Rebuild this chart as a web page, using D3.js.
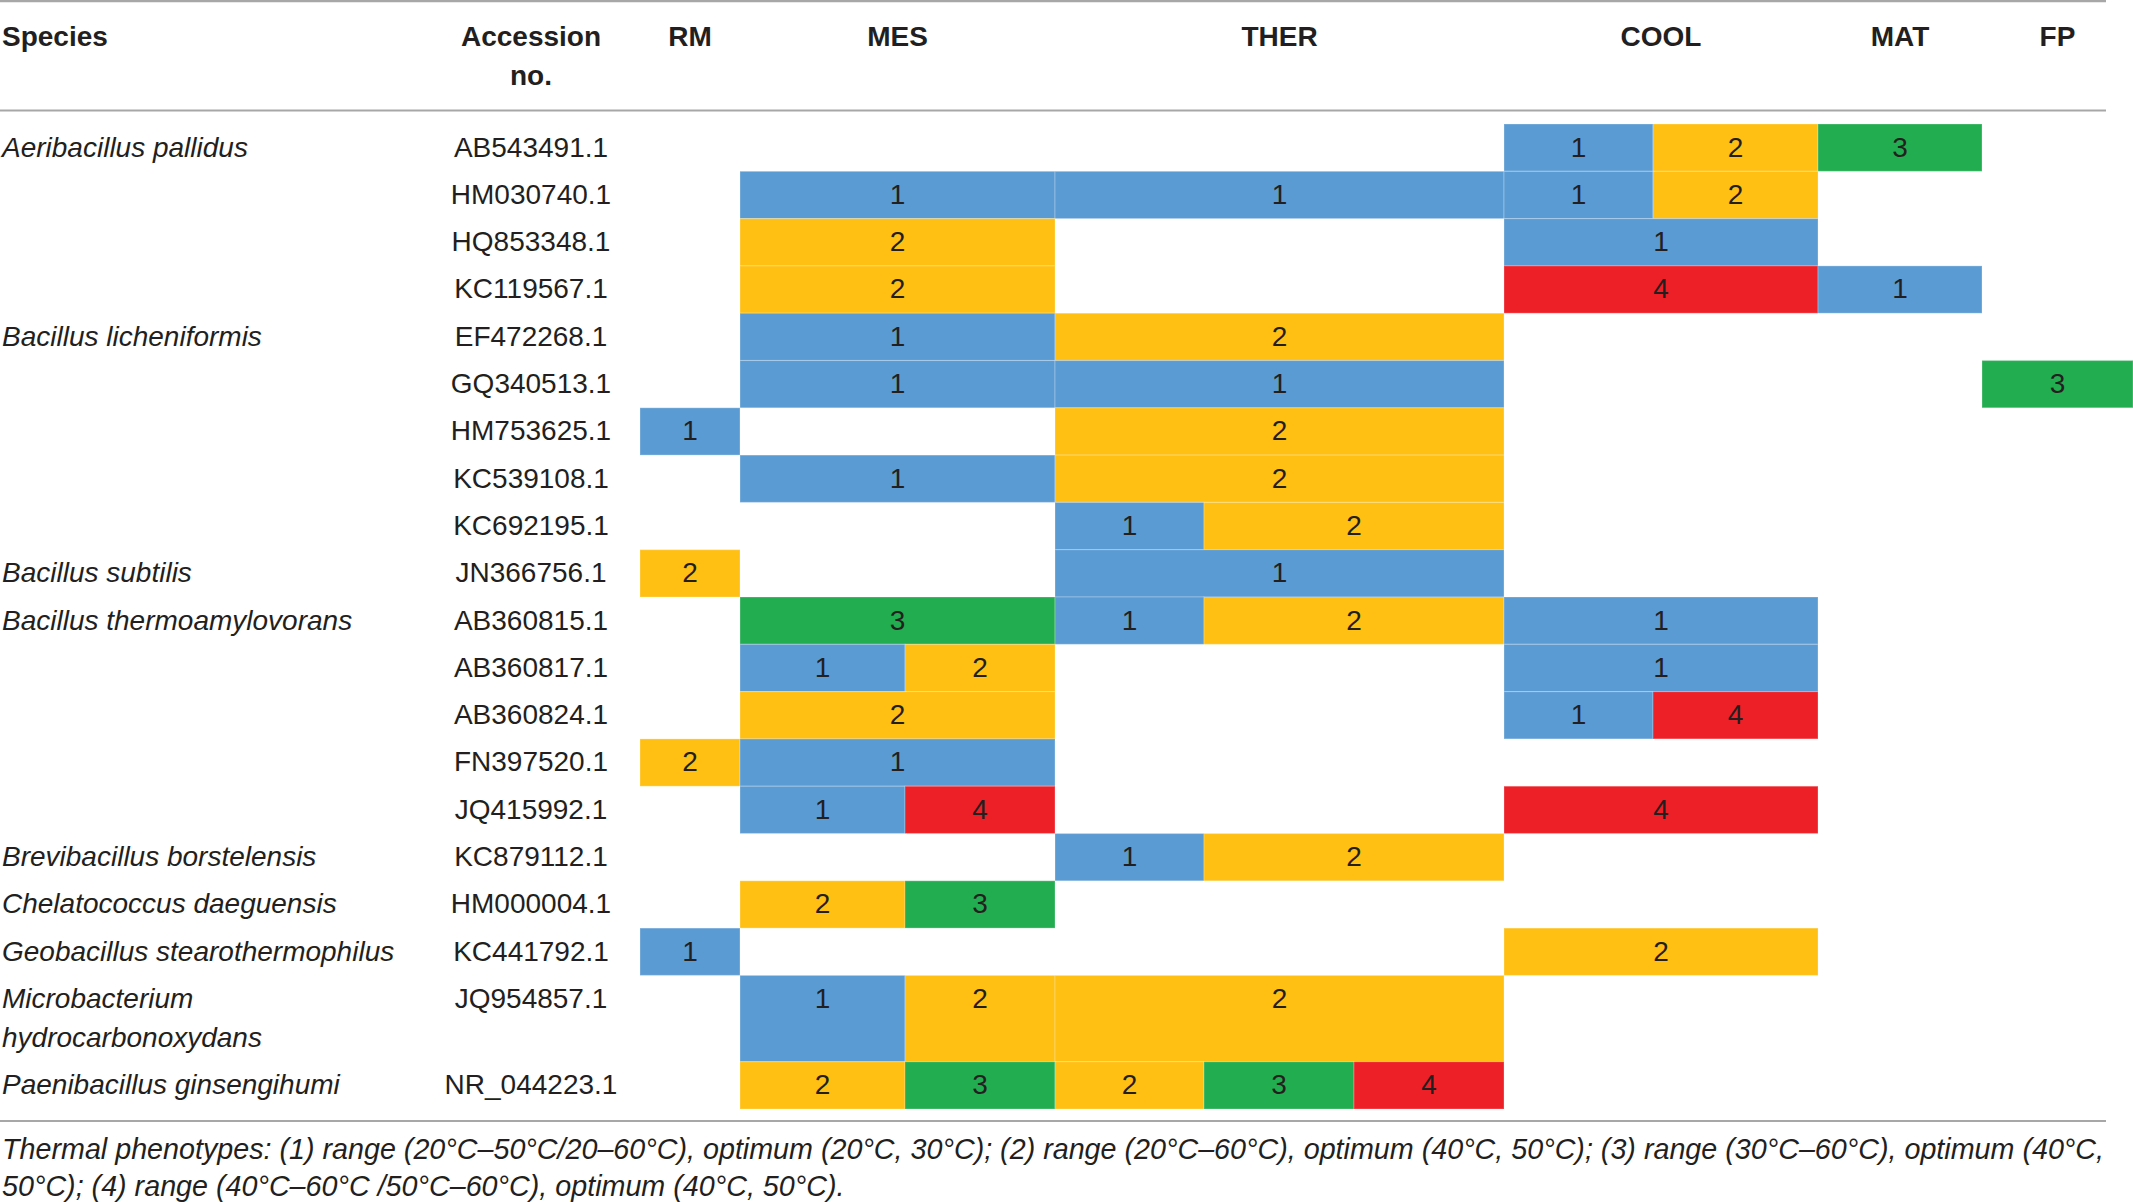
<!DOCTYPE html>
<html>
<head>
<meta charset="utf-8">
<script src="https://cdnjs.cloudflare.com/ajax/libs/d3/7.8.5/d3.min.js"></script>
<style>
  body { margin: 0; background: #fff; }
  svg text { font-family: "Liberation Sans", Arial, Helvetica, sans-serif; fill: #231f20; }
</style>
</head>
<body>
<svg id="chart"></svg>
<script>
// table content
var species = [
    'Aeribacillus pallidus', '', '', '',
    'Bacillus licheniformis', '', '', '', '',
    'Bacillus subtilis',
    'Bacillus thermoamylovorans', '', '', '', '',
    'Brevibacillus borstelensis',
    'Chelatococcus daeguensis',
    'Geobacillus stearothermophilus',
    'Microbacterium\nhydrocarbonoxydans',
    'Paenibacillus ginsengihumi'
];
var accessions = [
    'AB543491.1', 'HM030740.1', 'HQ853348.1', 'KC119567.1',
    'EF472268.1', 'GQ340513.1', 'HM753625.1', 'KC539108.1', 'KC692195.1',
    'JN366756.1',
    'AB360815.1', 'AB360817.1', 'AB360824.1', 'FN397520.1', 'JQ415992.1',
    'KC879112.1', 'HM000004.1', 'KC441792.1', 'JQ954857.1', 'NR_044223.1'
];
var groups = ['RM', 'MES', 'THER', 'COOL', 'MAT', 'FP'];
var groupSpan = [1, 2, 3, 2, 1, 1];   // sub-columns in each group

// [first sub-column, last sub-column, phenotype]
var cells = [
    [[6, 6, 1], [7, 7, 2], [8, 8, 3]],
    [[1, 2, 1], [3, 5, 1], [6, 6, 1], [7, 7, 2]],
    [[1, 2, 2], [6, 7, 1]],
    [[1, 2, 2], [6, 7, 4], [8, 8, 1]],
    [[1, 2, 1], [3, 5, 2]],
    [[1, 2, 1], [3, 5, 1], [9, 9, 3]],
    [[0, 0, 1], [3, 5, 2]],
    [[1, 2, 1], [3, 5, 2]],
    [[3, 3, 1], [4, 5, 2]],
    [[0, 0, 2], [3, 5, 1]],
    [[1, 2, 3], [3, 3, 1], [4, 5, 2], [6, 7, 1]],
    [[1, 1, 1], [2, 2, 2], [6, 7, 1]],
    [[1, 2, 2], [6, 6, 1], [7, 7, 4]],
    [[0, 0, 2], [1, 2, 1]],
    [[1, 1, 1], [2, 2, 4], [6, 7, 4]],
    [[3, 3, 1], [4, 5, 2]],
    [[1, 1, 2], [2, 2, 3]],
    [[0, 0, 1], [6, 7, 2]],
    [[1, 1, 1], [2, 2, 2], [3, 5, 2]],
    [[1, 1, 2], [2, 2, 3], [3, 3, 2], [4, 4, 3], [5, 5, 4]]
];
var phenotypes = [1, 2, 3, 4];
var phenoColors = ['#5b9bd3', '#ffc013', '#22ae50', '#ee2027'];

var footnote = [
    'Thermal phenotypes: (1) range (20°C–50°C/20–60°C), optimum (20°C, 30°C); (2) range (20°C–60°C), optimum (40°C, 50°C); (3) range (30°C–60°C), optimum (40°C,',
    '50°C); (4) range (40°C–60°C /50°C–60°C), optimum (40°C, 50°C).'
];

// layout
var W = 2133, H = 1202;
var fs = 28;
var ruleRight = 2106;
var accX = 531;
var colEdges = [640, 740, 905, 1055, 1204, 1354, 1504, 1653, 1818, 1982, 2133];
var bodyTop = 124, rowH = 47.3, lineGap = 39, textY = 32.5;

var svg = d3.select('#chart').attr('width', W).attr('height', H);

var x = d3.scaleLinear().domain(d3.range(colEdges.length)).range(colEdges);
var color = d3.scaleOrdinal().domain(phenotypes).range(phenoColors);

var lines = species.map(function (s) { return s.split('\n'); });
var heights = lines.map(function (l) { return rowH + lineGap * (l.length - 1); });
var tops = [bodyTop].concat(Array.from(d3.cumsum(heights), function (v) { return bodyTop + v; }));
var bodyBottom = tops[tops.length - 1];

// rules
[1, 110.5, bodyBottom + 12].forEach(function (yy, i) {
    svg.append('line')
        .attr('x1', 0).attr('x2', ruleRight)
        .attr('y1', yy).attr('y2', yy)
        .attr('stroke', '#a7a7a7')
        .attr('stroke-width', i === 0 ? 2.5 : 2);
});

// header
var head = svg.append('g').attr('font-size', fs).attr('font-weight', 'bold');
head.append('text').attr('x', 2).attr('y', 46).text('Species');
head.append('text').attr('x', accX).attr('y', 46).attr('text-anchor', 'middle').text('Accession');
head.append('text').attr('x', accX).attr('y', 85).attr('text-anchor', 'middle').text('no.');

var starts = [0];
groupSpan.forEach(function (n, i) { starts.push(starts[i] + n); });
head.selectAll('.grp').data(groups).enter().append('text')
    .attr('class', 'grp')
    .attr('x', function (d, i) { return (x(starts[i]) + x(starts[i + 1])) / 2; })
    .attr('y', 46)
    .attr('text-anchor', 'middle')
    .text(function (d) { return d; });

// body rows
var rows = svg.selectAll('.row').data(accessions).enter().append('g')
    .attr('class', 'row')
    .attr('transform', function (d, i) { return 'translate(0,' + tops[i] + ')'; });

rows.selectAll('rect').data(function (d, i) { return cells[i].map(function (c) { return {c: c, h: heights[i]}; }); })
    .enter().append('rect')
    .attr('x', function (d) { return x(d.c[0]); })
    .attr('y', 0)
    .attr('width', function (d) { return x(d.c[1] + 1) - x(d.c[0]); })
    .attr('height', function (d) { return d.h; })
    .attr('fill', function (d) { return color(d.c[2]); })
    .attr('stroke', 'rgba(255,255,255,0.22)')
    .attr('stroke-width', 1.2);

rows.selectAll('.val').data(function (d, i) { return cells[i]; })
    .enter().append('text')
    .attr('class', 'val')
    .attr('x', function (c) { return (x(c[0]) + x(c[1] + 1)) / 2; })
    .attr('y', textY)
    .attr('font-size', fs)
    .attr('text-anchor', 'middle')
    .text(function (c) { return c[2]; });

rows.append('text')
    .attr('x', accX)
    .attr('y', textY)
    .attr('font-size', fs)
    .attr('text-anchor', 'middle')
    .text(function (d) { return d; });

rows.each(function (d, i) {
    d3.select(this).selectAll('.sp').data(lines[i]).enter().append('text')
        .attr('class', 'sp')
        .attr('x', 2)
        .attr('y', function (l, j) { return textY + j * lineGap; })
        .attr('font-size', fs)
        .attr('font-style', 'italic')
        .text(function (l) { return l; });
});

// footnote
svg.selectAll('.note').data(footnote).enter().append('text')
    .attr('class', 'note')
    .attr('x', 2)
    .attr('y', function (d, i) { return 1159 + i * 37; })
    .attr('font-size', 28.7)
    .attr('font-style', 'italic')
    .text(function (d) { return d; });
</script>
</body>
</html>
